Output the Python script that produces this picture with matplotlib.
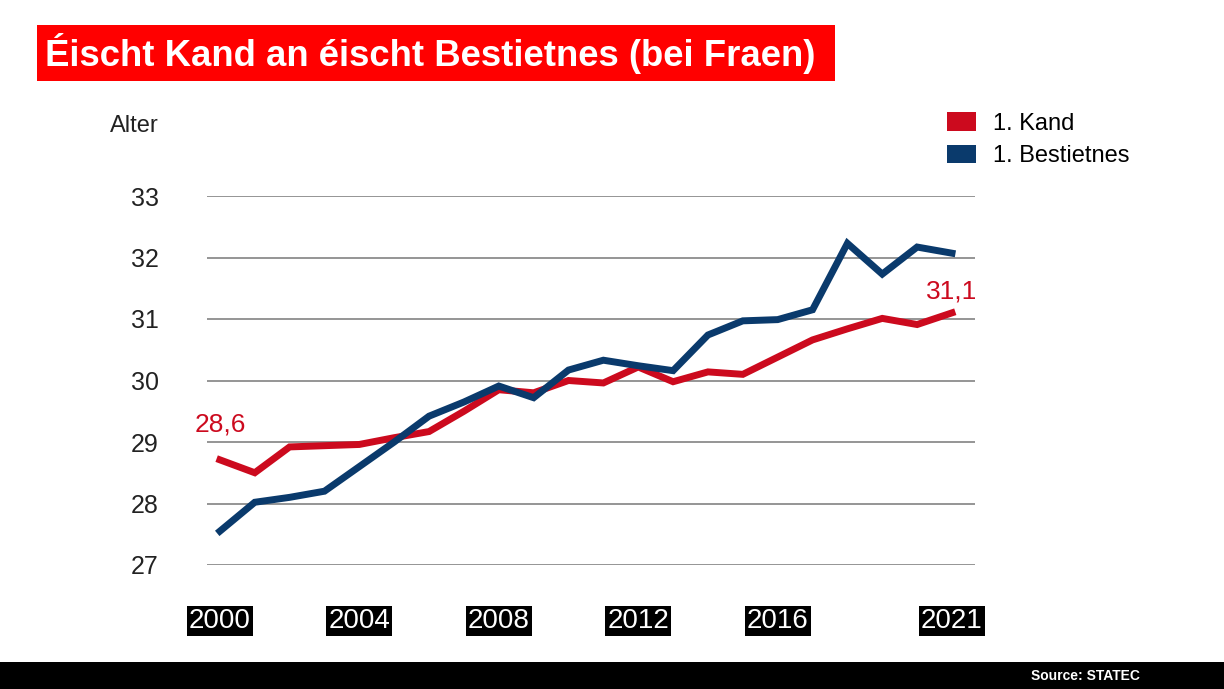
import matplotlib.pyplot as plt
from matplotlib.patches import Rectangle, Patch

# Donnéeën (Alter vun de Fraen)
joren = [2000, 2001, 2002, 2003, 2004, 2005, 2006, 2007, 2008, 2009, 2010,
         2011, 2012, 2013, 2014, 2015, 2016, 2017, 2018, 2019, 2020, 2021]
kand = [28.71, 28.50, 28.92, 28.94, 28.96, 29.07, 29.17, 29.50, 29.85, 29.80, 30.00,
        29.96, 30.22, 29.98, 30.14, 30.10, 30.38, 30.66, 30.84, 31.01, 30.91, 31.10]
bestietnes = [27.55, 28.02, 28.10, 28.20, 28.60, 29.00, 29.42, 29.65, 29.91, 29.72, 30.17,
              30.33, 30.24, 30.16, 30.74, 30.97, 30.99, 31.15, 32.23, 31.73, 32.17, 32.07]
y_ticks = [27, 28, 29, 30, 31, 32, 33]
x_ticks = [2000, 2004, 2008, 2012, 2016, 2021]

rout = '#CC0A1E'
blo = '#0A3A6C'
plt.rcParams['font.family'] = ['Liberation Sans', 'DejaVu Sans']

W, H = 1224, 689
fig = plt.figure(figsize=(W / 100, H / 100), dpi=100)
ax = fig.add_axes([207 / W, 1 - 565 / H, (975 - 207) / W, (565 - 196) / H])

ax.plot(joren, kand, color=rout, lw=5, clip_on=False, solid_joinstyle='miter')
ax.plot(joren, bestietnes, color=blo, lw=5, clip_on=False, solid_joinstyle='miter')

ax.set_xlim(1999.63, 2021.66)
ax.set_ylim(27, 33)
ax.set_yticks(y_ticks)
ax.set_yticklabels([str(v) for v in y_ticks], fontsize=18, color='#222222')
ax.grid(axis='y', color='#8c8c8c', lw=1.3)
ax.set_axisbelow(True)
for s in ax.spines.values():
    s.set_visible(False)
ax.tick_params(axis='y', length=0, pad=45)
ax.tick_params(axis='x', length=0, pad=31)
ax.set_xticks(x_ticks)
ax.set_xticklabels([str(v) for v in x_ticks], fontsize=20, color='white')
for lbl in ax.get_xticklabels():
    lbl.set_bbox(dict(facecolor='black', edgecolor='none', pad=1.5))
for lbl in ax.get_yticklabels():
    lbl.set_horizontalalignment('center')

# Wäerter um Ufank an um Enn
ax.text(joren[0], kand[0] + 0.38, '28,6', color=rout, fontsize=19, ha='center', va='bottom')
ax.text(joren[-1], kand[-1] + 0.15, '31,1', color=rout, fontsize=19, ha='center', va='bottom')

fig.text(110 / W, 1 - 126 / H, 'Alter', fontsize=17, color='#222222', va='center')

# Legend
handles = [Patch(facecolor=rout, label='1. Kand'), Patch(facecolor=blo, label='1. Bestietnes')]
fig.legend(handles=handles, loc='upper left', bbox_to_anchor=(938 / W, 1 - 103 / H),
           frameon=False, fontsize=17, handlelength=1.23, handleheight=0.8,
           handletextpad=0.68, labelspacing=0.42, borderaxespad=0, borderpad=0.4)

# Titel
fig.patches.append(Rectangle((37 / W, 1 - 81 / H), (835 - 37) / W, 56 / H,
                             transform=fig.transFigure, facecolor='#FF0000', edgecolor='none'))
fig.text(45 / W, 1 - 53 / H, 'Éischt Kand an éischt Bestietnes (bei Fraen)',
         fontsize=26.3, fontweight='bold', color='white', va='center')

# Quell
fig.patches.append(Rectangle((0, 0), 1, 27 / H, transform=fig.transFigure,
                             facecolor='black', edgecolor='none'))
fig.text(1140 / W, 13 / H, 'Source: STATEC', fontsize=10, fontweight='bold',
         color='white', ha='right', va='center')

fig.savefig('out.png', dpi=100)
